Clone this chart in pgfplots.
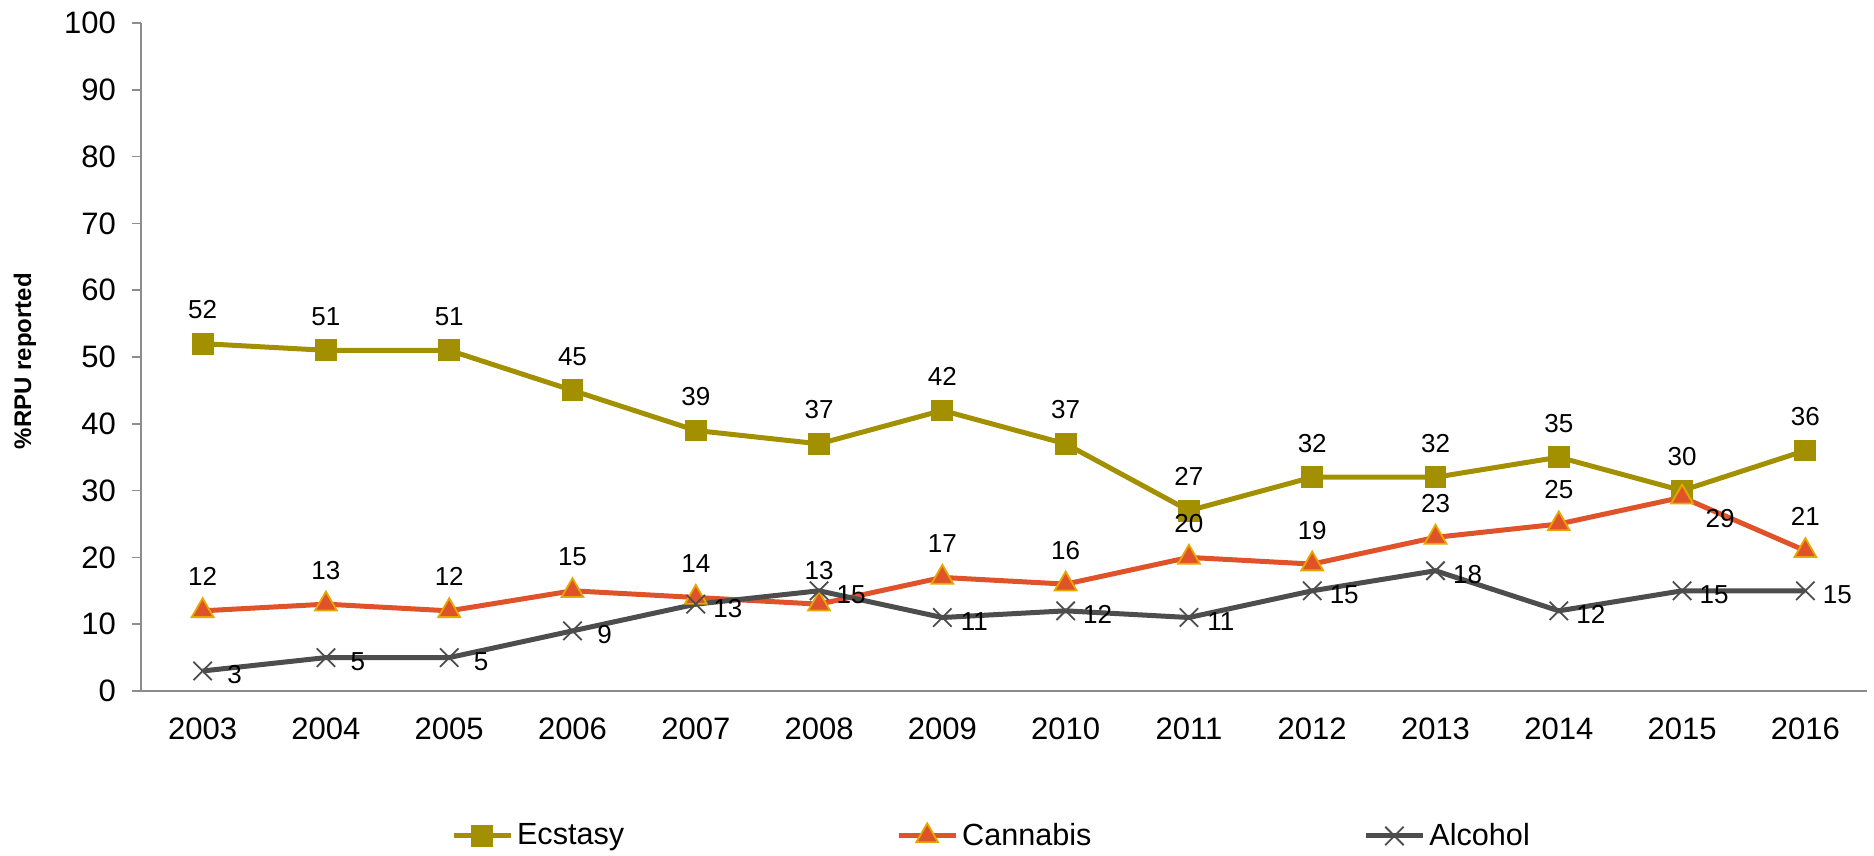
\documentclass[border=0pt]{standalone}
\usepackage{pgfplots}
\pgfplotsset{compat=1.18}
\usepackage{fontspec}
\setmainfont{Liberation Sans}
\definecolor{ecs}{HTML}{A39000}
\definecolor{can}{HTML}{E0522A}
\definecolor{canedge}{HTML}{E6A800}
\definecolor{alc}{HTML}{4D4D4D}
\definecolor{axg}{HTML}{8C8C8C}
\begin{document}
\begin{tikzpicture}
\begin{axis}[
  at={(0,0)}, anchor=south west,
  scale only axis, width=863pt, height=334pt,
  xmin=-0.5, xmax=13.5, ymin=0, ymax=100,
  clip=false,
  axis lines*=left,
  axis line style={axg, line width=0.8pt},
  tick align=outside,
  xtick={0,1,2,3,4,5,6,7,8,9,10,11,12,13},
  xticklabels={2003,2004,2005,2006,2007,2008,2009,2010,2011,2012,2013,2014,2015,2016},
  major x tick style={draw=none},
  extra x ticks={-0.5,0.5,1.5,2.5,3.5,4.5,5.5,6.5,7.5,8.5,9.5,10.5,11.5,12.5,13.5},
  extra x tick labels={},
  extra x tick style={tick style={draw=axg, line width=0.8pt}, major tick length=4.5pt},
  ytick={0,10,...,100},
  major tick length=4.5pt,
  ytick style={draw=axg, line width=0.8pt},
  tick label style={font=\fontsize{15.5}{18}\selectfont, text=black},
  xticklabel style={yshift=-5.5pt},
  yticklabel style={xshift=-4.5pt},
  /pgf/number format/assume math mode=true,
  ylabel={\%RPU reported},
  ylabel style={font=\fontsize{12}{14}\selectfont\bfseries, at={(axis description cs:-0.0672,0.494)}, anchor=center},
  legend style={draw=none, legend columns=-1, at={(0.4933,-0.217)}, anchor=center,
    font=\fontsize{15.3}{18}\selectfont,
    /tikz/column 2/.style={column sep=134pt},
    /tikz/column 4/.style={column sep=134pt}},
  legend image code/.code={\draw[mark repeat=2,mark phase=2,#1] plot coordinates {(0pt,0pt) (14.25pt,0pt) (28.5pt,0pt)};},
]
\addplot[ecs, line width=2.5pt, mark=square*, mark size=5.2pt, mark options={solid, fill=ecs, draw=ecs, line width=0.5pt},
  nodes near coords, nodes near coords style={text=black, anchor=center, yshift=17pt, font=\fontsize{13}{15}\selectfont}]
coordinates {(0,52) (1,51) (2,51) (3,45) (4,39) (5,37) (6,42) (7,37) (8,27) (9,32) (10,32) (11,35) (12,30) (13,36)};
\addlegendentry{Ecstasy}
\addplot[can, line width=2.5pt, mark=triangle*, mark size=6.3pt, mark options={solid, fill=can, draw=canedge, line width=0.9pt},
  point meta=explicit symbolic,
  nodes near coords, nodes near coords style={text=black, anchor=center, yshift=17pt, font=\fontsize{13}{15}\selectfont}]
coordinates {(0,12) [12] (1,13) [13] (2,12) [12] (3,15) [15] (4,14) [14] (5,13) [13] (6,17) [17] (7,16) [16] (8,20) [20] (9,19) [19] (10,23) [23] (11,25) [25] (12,29) [] (13,21) [21]};
\addlegendentry{Cannabis}
\addplot[alc, line width=2.5pt, mark=x, mark size=6.5pt, mark options={solid, draw=alc, line width=0.9pt},
  nodes near coords, nodes near coords style={text=black, anchor=center, xshift=16pt, yshift=-2pt, font=\fontsize{13}{15}\selectfont}]
coordinates {(0,3) (1,5) (2,5) (3,9) (4,13) (5,15) (6,11) (7,12) (8,11) (9,15) (10,18) (11,12) (12,15) (13,15)};
\addlegendentry{Alcohol}
\addplot[draw=none, mark=none, forget plot, nodes near coords, nodes near coords style={text=black, anchor=center, xshift=19pt, yshift=-10.5pt, font=\fontsize{13}{15}\selectfont}]
coordinates {(12,29)};
\end{axis}
\pgfresetboundingbox
\path (-70.5pt,-82.5pt) rectangle (866.5pt,345.5pt);
\end{tikzpicture}
\end{document}
